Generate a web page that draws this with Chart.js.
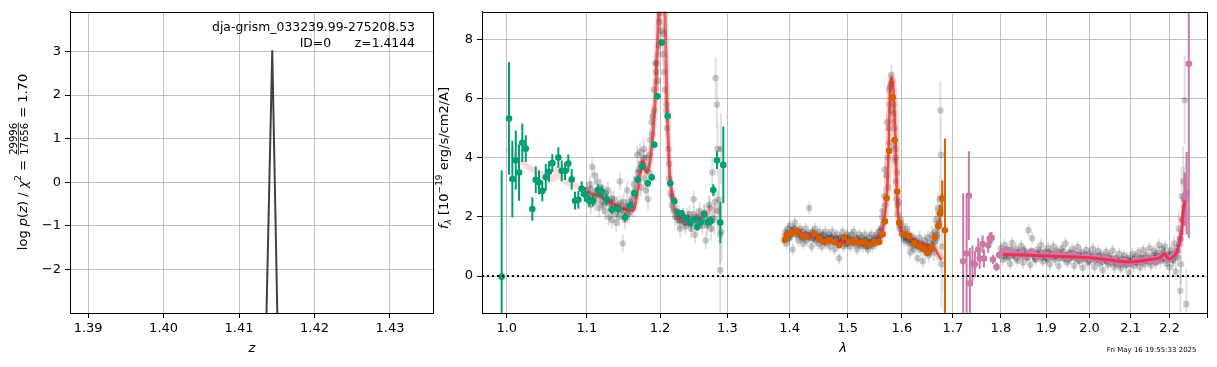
<!DOCTYPE html>
<html>
<head>
<meta charset="utf-8">
<script src="https://cdn.jsdelivr.net/npm/chart.js@4.4.1/dist/chart.umd.min.js"></script>
<style>
html, body { margin: 0; padding: 0; background: #fff; }
#wrap { position: relative; width: 1217px; height: 367px; }
canvas { position: absolute; left: 0; top: 0; }
</style>
</head>
<body>
<div id="wrap">
<canvas id="pz" width="1217" height="367"></canvas>
<canvas id="spec" width="1217" height="367"></canvas>
</div>
<script>
// ---- redshift panel ----
const pzZ = [1.4128, 1.4144, 1.4160];
const pzLog = [-9.6, 3.03, -11.4];
const pzTicksX = [1.39, 1.40, 1.41, 1.42, 1.43];
const pzTicksY = [-2, -1, 0, 1, 2, 3];
const objName = "dja-grism_033239.99-275208.53";
const objId = 0;
const objZ = 1.4144;
const chi2 = ["29996", "17656", "1.70"];
const stamp = "Fri May 16 19:55:33 2025";

// ---- spectrum panel ----
const specTicksX = [1.0, 1.1, 1.2, 1.3, 1.4, 1.5, 1.6, 1.7, 1.8, 1.9, 2.0, 2.1, 2.2, 2.3];
const specTicksY = [0, 2, 4, 6, 8];

// binned spectra
const f115Wave = [0.994, 1.0027, 1.0067, 1.0108, 1.0147, 1.0187, 1.0229, 1.0309, 1.0351, 1.0391,
  1.0432, 1.0475, 1.0516, 1.0557, 1.0633, 1.0676, 1.0718, 1.0760, 1.0803, 1.0846,
  1.0889, 1.0932, 1.0976, 1.1033, 1.1077, 1.1150, 1.1195, 1.1260, 1.1330, 1.1419,
  1.1510, 1.1579, 1.1638, 1.1686, 1.1750, 1.1826, 1.1882, 1.1919, 1.1961, 1.2024,
  1.2110, 1.2147, 1.2205, 1.2263, 1.2313, 1.2377, 1.2436, 1.2499, 1.2545, 1.2596,
  1.2650, 1.2700, 1.2746, 1.2785, 1.2841, 1.2892, 1.2938];
const f115Flux = [-0.02, 5.33, 3.28, 3.92, 3.50, 4.51, 4.31, 2.27, 3.26, 3.17,
  2.88, 3.34, 3.53, 3.82, 4.01, 3.56, 3.55, 3.81, 3.27, 2.55,
  2.58, 2.95, 2.76, 2.55, 2.55, 2.91, 2.86, 2.60, 2.24, 2.27,
  1.99, 2.38, 2.80, 3.26, 3.70, 3.14, 3.34, 4.44, 6.08, 7.90,
  5.41, 3.14, 2.53, 2.14, 2.12, 1.94, 1.80, 1.92, 1.66, 1.82,
  2.08, 1.82, 1.86, 2.91, 3.92, 1.81, 3.76];
const f115Err = [3.6, 1.9, 1.3, 1.0, 0.95, 0.65, 0.45, 0.4, 0.45, 0.4,
  0.35, 0.45, 0.35, 0.3, 0.35, 0.35, 0.3, 0.3, 0.35, 0.3,
  0.3, 0.25, 0.25, 0.2, 0.2, 0.2, 0.2, 0.2, 0.15, 0.15,
  0.15, 0.15, 0.12, 0.12, 0.12, 0.12, 0.12, 0.1, 0.1, 0.1,
  0.1, 0.1, 0.1, 0.1, 0.1, 0.1, 0.1, 0.12, 0.12, 0.12,
  0.12, 0.15, 0.15, 0.2, 0.3, 0.7, 1.3];

const f150Wave = [1.3925, 1.3955, 1.4034, 1.4117, 1.4202, 1.4287, 1.4417, 1.4503, 1.4588, 1.4676,
  1.4763, 1.4851, 1.4939, 1.5029, 1.5118, 1.5209, 1.5299, 1.5390, 1.5483, 1.5574,
  1.5638, 1.5680, 1.5712, 1.5760, 1.5825, 1.5862, 1.5911, 1.5949, 1.6045, 1.6140,
  1.6237, 1.6333, 1.6431, 1.6497, 1.6576, 1.6641, 1.6707, 1.6740, 1.6786, 1.6840];
const f150Flux = [1.23, 1.38, 1.43, 1.52, 1.38, 1.32, 1.43, 1.27, 1.15, 1.21,
  1.15, 1.04, 1.32, 1.15, 1.21, 1.12, 1.15, 1.06, 1.15, 1.15,
  1.41, 1.85, 2.63, 4.24, 6.05, 4.60, 2.86, 1.80, 1.41, 1.36,
  1.12, 1.01, 0.93, 0.78, 0.95, 1.32, 1.69, 2.11, 2.63, 1.55];
const f150Err = [0.1, 0.1, 0.08, 0.08, 0.08, 0.08, 0.08, 0.08, 0.08, 0.08,
  0.08, 0.08, 0.08, 0.08, 0.08, 0.08, 0.08, 0.08, 0.08, 0.08,
  0.08, 0.1, 0.1, 0.1, 0.12, 0.1, 0.1, 0.08, 0.08, 0.08,
  0.08, 0.08, 0.1, 0.1, 0.1, 0.12, 0.15, 0.3, 0.6, 3.1];

const f200Wave = [1.7210, 1.7280, 1.7327, 1.7348, 1.7400, 1.7452, 1.7521, 1.7551, 1.7613, 1.7641,
  1.7731, 1.7761, 1.7801, 1.7830, 1.7906, 1.7962, 1.8035, 1.8121,
  1.820, 1.828, 1.836, 1.844, 1.852, 1.860, 1.868, 1.876, 1.884, 1.892,
  1.900, 1.908, 1.916, 1.924, 1.932, 1.940, 1.948, 1.956, 1.964, 1.972,
  1.980, 1.988, 1.996, 2.004, 2.012, 2.020, 2.028, 2.036, 2.044, 2.052,
  2.060, 2.068, 2.076, 2.084, 2.092, 2.100, 2.108, 2.116, 2.124, 2.132,
  2.140, 2.148, 2.156, 2.164, 2.172, 2.180, 2.188, 2.196, 2.204, 2.212,
  2.220, 2.228, 2.234, 2.2395, 2.2447, 2.2508];
const f200Flux = [0.50, 0.76, 2.72, -0.25, 0.43, 0.40, 0.90, 0.59, 1.08, 0.59,
  1.04, 1.27, 1.29, 0.56, 0.31, 0.71, 0.82, 0.90,
  0.74, 0.80, 0.70, 0.78, 0.67, 0.75, 0.82, 0.71, 0.66, 0.76,
  0.70, 0.64, 0.73, 0.79, 0.68, 0.72, 0.62, 0.70, 0.76, 0.65,
  0.60, 0.68, 0.64, 0.57, 0.66, 0.60, 0.53, 0.62, 0.56, 0.50,
  0.58, 0.47, 0.44, 0.52, 0.46, 0.41, 0.50, 0.55, 0.47, 0.53,
  0.60, 0.51, 0.58, 0.48, 0.62, 0.70, 0.66, 0.55, 0.63, 0.72,
  0.84, 1.25, 1.9, 2.6, 2.80, 7.18];
const f200Err = [2.3, 2.0, 1.5, 1.2, 0.6, 0.45, 0.4, 0.35, 0.3, 0.3,
  0.25, 0.2, 0.2, 0.15, 0.15, 0.12, 0.1, 0.1,
  0.1, 0.1, 0.1, 0.1, 0.1, 0.1, 0.1, 0.1, 0.1, 0.1,
  0.1, 0.1, 0.1, 0.1, 0.1, 0.1, 0.1, 0.1, 0.1, 0.1,
  0.1, 0.1, 0.1, 0.1, 0.1, 0.1, 0.1, 0.1, 0.1, 0.1,
  0.1, 0.1, 0.1, 0.1, 0.1, 0.1, 0.1, 0.1, 0.1, 0.1,
  0.1, 0.1, 0.1, 0.1, 0.1, 0.1, 0.1, 0.1, 0.1, 0.1,
  0.12, 0.25, 0.5, 0.9, 1.4, 5.9];

// individual pixels (grey), first beam
const pix115Wave = [1.100, 1.102, 1.104, 1.105, 1.107, 1.108, 1.110, 1.111, 1.113, 1.114,
  1.116, 1.118, 1.119, 1.121, 1.123, 1.124, 1.126, 1.128, 1.129, 1.131,
  1.133, 1.134, 1.136, 1.138, 1.139, 1.141, 1.143, 1.144, 1.146, 1.148,
  1.149, 1.151, 1.153, 1.154, 1.156, 1.158, 1.160, 1.162, 1.163, 1.165,
  1.167, 1.168, 1.170, 1.172, 1.173, 1.175, 1.177, 1.178, 1.180, 1.181,
  1.183, 1.185, 1.186, 1.188, 1.189, 1.191, 1.192, 1.194, 1.195, 1.197,
  1.198, 1.199, 1.201, 1.202, 1.204, 1.206, 1.207, 1.209, 1.210, 1.212,
  1.213, 1.215, 1.217, 1.219, 1.220, 1.222, 1.224, 1.226, 1.227, 1.229,
  1.231, 1.233, 1.235, 1.237, 1.239, 1.241, 1.243, 1.245, 1.247, 1.249,
  1.251, 1.253, 1.255, 1.258, 1.260, 1.262, 1.265, 1.267, 1.270, 1.272,
  1.275, 1.277, 1.280, 1.282, 1.284, 1.285, 1.287, 1.289, 1.290, 1.291];
const pix115Flux = [2.9, 2.6, 3.1, 2.4, 3.7, 2.7, 3.4, 2.5, 2.9, 3.2,
  2.3, 2.8, 3.0, 2.4, 2.7, 2.2, 2.6, 2.9, 2.0, 2.5,
  1.9, 2.3, 2.6, 2.1, 1.8, 2.4, 2.0, 3.2, 2.2, 1.1,
  2.5, 1.9, 2.3, 2.9, 2.1, 2.5, 2.6, 2.3, 3.1, 2.7,
  3.3, 4.1, 3.6, 4.2, 3.0, 3.8, 4.3, 3.3, 2.9, 4.0,
  2.6, 3.5, 4.6, 5.2, 4.8, 6.3, 5.6, 6.9, 7.2, 6.6,
  7.8, 8.6, 8.9, 8.3, 7.5, 6.9, 6.3, 5.8, 5.0, 4.3,
  3.3, 2.8, 2.4, 2.3, 2.6, 2.0, 2.2, 1.9, 2.1, 1.6,
  1.9, 2.0, 1.8, 1.7, 2.0, 1.9, 2.1, 1.6, 1.8, 2.6,
  1.4, 2.0, 1.8, 2.2, 1.9, 1.7, 2.1, 1.2, 1.9, 2.4,
  1.6, 3.5, 1.9, 6.7, 5.8, 4.3, 2.6, 0.2, 4.3, 1.5];
const pix115Err = [0.3, 0.3, 0.3, 0.3, 0.3, 0.3, 0.3, 0.3, 0.3, 0.3,
  0.3, 0.3, 0.3, 0.3, 0.3, 0.3, 0.3, 0.3, 0.3, 0.3,
  0.3, 0.3, 0.3, 0.3, 0.3, 0.3, 0.3, 0.3, 0.3, 0.3,
  0.3, 0.3, 0.3, 0.3, 0.3, 0.3, 0.3, 0.3, 0.3, 0.3,
  0.3, 0.3, 0.3, 0.3, 0.3, 0.3, 0.3, 0.3, 0.3, 0.3,
  0.4, 0.4, 0.4, 0.4, 0.4, 0.4, 0.4, 0.4, 0.4, 0.4,
  0.4, 0.4, 0.4, 0.4, 0.4, 0.4, 0.4, 0.4, 0.4, 0.4,
  0.3, 0.3, 0.3, 0.3, 0.3, 0.3, 0.3, 0.3, 0.3, 0.3,
  0.3, 0.3, 0.3, 0.3, 0.3, 0.3, 0.3, 0.3, 0.3, 0.3,
  0.3, 0.3, 0.3, 0.3, 0.3, 0.3, 0.3, 0.3, 0.3, 0.3,
  0.4, 0.5, 0.5, 0.7, 0.8, 0.9, 1.0, 1.5, 1.2, 1.0];

const pix150Wave = [1.391, 1.393, 1.395, 1.397, 1.399, 1.401, 1.403, 1.405, 1.407, 1.409,
  1.411, 1.413, 1.415, 1.417, 1.419, 1.421, 1.423, 1.425, 1.427, 1.429,
  1.431, 1.433, 1.435, 1.437, 1.439, 1.441, 1.443, 1.445, 1.447, 1.449,
  1.451, 1.453, 1.455, 1.457, 1.459, 1.461, 1.463, 1.465, 1.467, 1.469,
  1.471, 1.473, 1.475, 1.477, 1.479, 1.481, 1.483, 1.485, 1.487, 1.489,
  1.491, 1.493, 1.495, 1.497, 1.499, 1.501, 1.503, 1.505, 1.507, 1.509,
  1.511, 1.513, 1.515, 1.517, 1.519, 1.521, 1.523, 1.525, 1.527, 1.529,
  1.531, 1.533, 1.535, 1.537, 1.539, 1.541, 1.543, 1.545, 1.547, 1.549,
  1.551, 1.553, 1.555, 1.557, 1.559, 1.561, 1.563, 1.565, 1.567, 1.569,
  1.571, 1.573, 1.574, 1.575, 1.576, 1.577, 1.578, 1.579, 1.580, 1.581,
  1.582, 1.583, 1.584, 1.585, 1.586, 1.587, 1.588, 1.589, 1.590, 1.591,
  1.592, 1.594, 1.596, 1.598, 1.600, 1.602, 1.604, 1.606, 1.608, 1.610,
  1.612, 1.614, 1.616, 1.618, 1.620, 1.622, 1.624, 1.626, 1.628, 1.630,
  1.632, 1.634, 1.636, 1.638, 1.640, 1.642, 1.644, 1.646, 1.648, 1.650,
  1.652, 1.654, 1.656, 1.658, 1.660, 1.662, 1.664, 1.666, 1.668, 1.670,
  1.672, 1.674, 1.675, 1.676, 1.677, 1.678];
const pix150Flux = [1.2, 1.5, 1.1, 1.6, 1.3, 1.7, 1.4, 0.9, 1.6, 1.8,
  1.4, 1.5, 1.2, 1.6, 1.3, 1.5, 1.1, 1.4, 1.6, 1.2,
  1.4, 2.3, 1.3, 1.0, 1.5, 1.3, 1.6, 1.2, 1.4, 1.1,
  1.5, 1.3, 1.0, 1.4, 1.2, 1.5, 1.1, 1.3, 1.4, 1.0,
  1.3, 1.5, 1.2, 0.9, 1.3, 1.4, 1.1, 0.6, 1.3, 1.2,
  1.5, 1.0, 1.3, 1.2, 1.4, 1.1, 1.3, 1.0, 1.4, 1.2,
  1.5, 1.1, 1.3, 0.9, 1.2, 1.4, 1.1, 1.3, 1.0, 1.2,
  1.4, 1.0, 1.2, 0.9, 1.3, 1.1, 1.4, 1.0, 1.2, 1.3,
  1.1, 1.4, 1.2, 1.5, 1.3, 1.6, 2.0, 1.8, 2.7, 2.4,
  3.4, 4.0, 3.0, 5.0, 4.5, 5.8, 6.4, 5.6, 6.8, 6.0,
  6.6, 5.2, 5.8, 4.4, 5.0, 3.9, 4.3, 3.2, 2.6, 3.5,
  2.1, 2.5, 1.6, 1.9, 1.4, 1.7, 1.2, 1.5, 1.3, 1.6,
  1.1, 1.4, 0.8, 1.2, 1.0, 1.3, 0.9, 1.2, 1.1, 0.6,
  1.0, 1.3, 0.9, 1.1, 0.5, 0.9, 1.2, 0.8, 1.0, 1.3,
  0.7, 1.1, 0.9, 1.4, 1.2, 0.8, 1.5, 1.9, 1.3, 2.3,
  1.7, 2.6, 5.6, 4.1, 0.4, 1.0];
const pix150Err = [0.2, 0.2, 0.2, 0.2, 0.2, 0.2, 0.2, 0.2, 0.2, 0.2,
  0.2, 0.2, 0.2, 0.2, 0.2, 0.2, 0.2, 0.2, 0.2, 0.2,
  0.2, 0.2, 0.2, 0.2, 0.2, 0.2, 0.2, 0.2, 0.2, 0.2,
  0.2, 0.2, 0.2, 0.2, 0.2, 0.2, 0.2, 0.2, 0.2, 0.2,
  0.2, 0.2, 0.2, 0.2, 0.2, 0.2, 0.2, 0.2, 0.2, 0.2,
  0.2, 0.2, 0.2, 0.2, 0.2, 0.2, 0.2, 0.2, 0.2, 0.2,
  0.2, 0.2, 0.2, 0.2, 0.2, 0.2, 0.2, 0.2, 0.2, 0.2,
  0.2, 0.2, 0.2, 0.2, 0.2, 0.2, 0.2, 0.2, 0.2, 0.2,
  0.2, 0.2, 0.2, 0.2, 0.2, 0.22, 0.25, 0.25, 0.3, 0.3,
  0.35, 0.35, 0.35, 0.35, 0.35, 0.35, 0.35, 0.35, 0.35, 0.35,
  0.35, 0.35, 0.35, 0.35, 0.35, 0.35, 0.35, 0.35, 0.35, 0.35,
  0.3, 0.3, 0.25, 0.25, 0.2, 0.2, 0.2, 0.2, 0.2, 0.2,
  0.2, 0.2, 0.2, 0.2, 0.2, 0.2, 0.2, 0.2, 0.2, 0.2,
  0.22, 0.22, 0.22, 0.22, 0.22, 0.22, 0.22, 0.22, 0.22, 0.22,
  0.25, 0.25, 0.25, 0.3, 0.3, 0.3, 0.35, 0.4, 0.45, 0.5,
  0.6, 0.8, 1.0, 1.2, 1.5, 1.5];

const pix200Wave = [1.800, 1.804, 1.808, 1.812, 1.816, 1.820, 1.824, 1.828, 1.832, 1.836,
  1.840, 1.844, 1.848, 1.852, 1.856, 1.860, 1.864, 1.868, 1.872, 1.876,
  1.880, 1.884, 1.888, 1.892, 1.896, 1.900, 1.904, 1.908, 1.912, 1.916,
  1.920, 1.924, 1.928, 1.932, 1.936, 1.940, 1.944, 1.948, 1.952, 1.956,
  1.960, 1.964, 1.968, 1.972, 1.976, 1.980, 1.984, 1.988, 1.992, 1.996,
  2.000, 2.004, 2.008, 2.012, 2.016, 2.020, 2.024, 2.028, 2.032, 2.036,
  2.040, 2.044, 2.048, 2.052, 2.056, 2.060, 2.064, 2.068, 2.072, 2.076,
  2.080, 2.084, 2.088, 2.092, 2.096, 2.100, 2.104, 2.108, 2.112, 2.116,
  2.120, 2.124, 2.128, 2.132, 2.136, 2.140, 2.144, 2.148, 2.152, 2.156,
  2.160, 2.164, 2.168, 2.172, 2.176, 2.180, 2.184, 2.188, 2.192, 2.196,
  2.200, 2.204, 2.208, 2.212, 2.216, 2.220, 2.224, 2.228, 2.232, 2.236,
  2.240, 2.244];
const pix200Flux = [0.95, 0.55, 1.05, 0.62, 0.88, 0.41, 1.12, 0.70, 0.93, 0.52,
  0.80, 1.02, 0.45, 0.84, 0.63, 1.55, 0.38, 1.28, 0.74, 0.55,
  0.90, 0.66, 1.05, 0.49, 0.82, 0.60, 0.95, 0.40, 0.77, 1.00,
  0.55, 0.86, 0.34, 0.72, 0.94, 0.58, 1.10, 0.46, 0.80, 0.62,
  0.91, 0.35, 0.74, 0.98, 0.50, 0.81, 0.28, 0.70, 0.88, 0.45,
  0.76, 0.56, 0.92, 0.31, 0.68, 0.85, 0.42, 0.73, 0.20, 0.64,
  0.82, 0.38, 0.69, 0.50, 0.86, 0.30, 0.62, 0.45, 0.75, 0.26,
  0.58, 0.70, 0.36, 0.60, 0.12, 0.52, 0.74, 0.34, 0.66, 0.47,
  0.80, 0.30, 0.63, 0.88, 0.40, 0.72, 0.52, 0.95, 0.36, 0.70,
  0.85, 0.44, 0.78, 1.05, 0.50, 0.92, 0.62, 1.00, 0.42, 0.75,
  0.30, 0.88, 0.55, 1.10, 0.15, 0.95, 1.60, -0.50, 2.70, 3.20,
  5.95, -0.95];
const pix200Err = [0.2, 0.2, 0.2, 0.2, 0.2, 0.2, 0.2, 0.2, 0.2, 0.2,
  0.2, 0.2, 0.2, 0.2, 0.2, 0.2, 0.2, 0.2, 0.2, 0.2,
  0.2, 0.2, 0.2, 0.2, 0.2, 0.2, 0.2, 0.2, 0.2, 0.2,
  0.2, 0.2, 0.2, 0.2, 0.2, 0.2, 0.2, 0.2, 0.2, 0.2,
  0.2, 0.2, 0.2, 0.2, 0.2, 0.2, 0.2, 0.2, 0.2, 0.2,
  0.2, 0.2, 0.2, 0.2, 0.2, 0.2, 0.2, 0.2, 0.2, 0.2,
  0.2, 0.2, 0.2, 0.2, 0.2, 0.2, 0.2, 0.2, 0.2, 0.2,
  0.2, 0.2, 0.2, 0.2, 0.2, 0.2, 0.2, 0.2, 0.2, 0.2,
  0.2, 0.2, 0.2, 0.2, 0.2, 0.2, 0.2, 0.2, 0.2, 0.2,
  0.2, 0.2, 0.2, 0.2, 0.2, 0.2, 0.2, 0.2, 0.2, 0.2,
  0.2, 0.2, 0.25, 0.25, 0.3, 0.4, 0.6, 0.8, 1.0, 1.2,
  1.5, 1.2];

// individual pixels (grey), second beam
const pixB115Wave = [1.101, 1.105, 1.109, 1.113, 1.117, 1.121, 1.125, 1.129, 1.133, 1.137,
  1.141, 1.145, 1.149, 1.153, 1.157, 1.161, 1.165, 1.169, 1.173, 1.177,
  1.181, 1.185, 1.189, 1.193, 1.197, 1.201, 1.205, 1.209, 1.213, 1.217,
  1.221, 1.225, 1.229, 1.233, 1.237, 1.241, 1.245, 1.249, 1.253, 1.257,
  1.261, 1.265, 1.269, 1.273, 1.277, 1.281, 1.285, 1.289];
const pixB115Flux = [2.75, 2.95, 2.60, 2.85, 2.70, 2.50, 2.80, 2.45, 2.62, 2.35,
  2.30, 2.48, 2.20, 2.35, 2.15, 2.40, 2.90, 3.50, 3.80, 4.00,
  3.60, 4.10, 5.40, 7.20, 9.00, 9.50, 8.20, 5.60, 3.80, 2.70,
  2.20, 2.00, 1.85, 2.05, 1.80, 1.95, 1.75, 2.10, 1.88, 2.00,
  1.90, 2.15, 1.70, 2.30, 1.95, 2.50, 2.20, 1.40];
const pixB115Err = [0.25, 0.25, 0.25, 0.25, 0.25, 0.25, 0.25, 0.25, 0.25, 0.25,
  0.25, 0.25, 0.25, 0.25, 0.25, 0.25, 0.25, 0.3, 0.3, 0.3,
  0.3, 0.35, 0.4, 0.4, 0.4, 0.4, 0.4, 0.4, 0.35, 0.3,
  0.25, 0.25, 0.25, 0.25, 0.25, 0.25, 0.25, 0.25, 0.25, 0.25,
  0.3, 0.3, 0.35, 0.4, 0.45, 0.5, 0.7, 1.0];

const pixB150Wave = [1.392, 1.396, 1.400, 1.404, 1.408, 1.412, 1.416, 1.420, 1.424, 1.428,
  1.432, 1.436, 1.440, 1.444, 1.448, 1.452, 1.456, 1.460, 1.464, 1.468,
  1.472, 1.476, 1.480, 1.484, 1.488, 1.492, 1.496, 1.500, 1.504, 1.508,
  1.512, 1.516, 1.520, 1.524, 1.528, 1.532, 1.536, 1.540, 1.544, 1.548,
  1.552, 1.556, 1.560, 1.564, 1.568, 1.572, 1.576, 1.580, 1.584, 1.588,
  1.592, 1.596, 1.600, 1.604, 1.608, 1.612, 1.616, 1.620, 1.624, 1.628,
  1.632, 1.636, 1.640, 1.644, 1.648, 1.652, 1.656, 1.660, 1.664, 1.668,
  1.672, 1.676];
const pixB150Flux = [1.35, 1.45, 1.30, 1.52, 1.60, 1.42, 1.50, 1.36, 1.28, 1.40,
  1.33, 1.46, 1.25, 1.38, 1.30, 1.22, 1.35, 1.18, 1.27, 1.20,
  1.30, 1.14, 1.24, 1.10, 1.28, 1.19, 1.08, 1.25, 1.16, 1.22,
  1.12, 1.26, 1.05, 1.18, 1.10, 1.22, 1.02, 1.14, 1.08, 1.20,
  1.15, 1.30, 1.55, 2.20, 3.60, 5.20, 6.30, 6.50, 5.50, 4.00,
  2.40, 1.70, 1.45, 1.30, 1.35, 1.20, 1.25, 1.10, 1.18, 1.05,
  1.12, 0.98, 1.06, 0.92, 1.00, 0.95, 0.88, 1.02, 1.15, 1.40,
  1.80, 2.20];
const pixB150Err = [0.15, 0.15, 0.15, 0.15, 0.15, 0.15, 0.15, 0.15, 0.15, 0.15,
  0.15, 0.15, 0.15, 0.15, 0.15, 0.15, 0.15, 0.15, 0.15, 0.15,
  0.15, 0.15, 0.15, 0.15, 0.15, 0.15, 0.15, 0.15, 0.15, 0.15,
  0.15, 0.15, 0.15, 0.15, 0.15, 0.15, 0.15, 0.15, 0.15, 0.15,
  0.15, 0.15, 0.2, 0.25, 0.3, 0.3, 0.3, 0.3, 0.3, 0.3,
  0.25, 0.2, 0.15, 0.15, 0.15, 0.15, 0.15, 0.15, 0.15, 0.15,
  0.15, 0.15, 0.15, 0.15, 0.15, 0.15, 0.2, 0.2, 0.25, 0.3,
  0.4, 0.6];

const pixB200Wave = [1.802, 1.806, 1.810, 1.814, 1.818, 1.822, 1.826, 1.830, 1.834, 1.838,
  1.842, 1.846, 1.850, 1.854, 1.858, 1.862, 1.866, 1.870, 1.874, 1.878,
  1.882, 1.886, 1.890, 1.894, 1.898, 1.902, 1.906, 1.910, 1.914, 1.918,
  1.922, 1.926, 1.930, 1.934, 1.938, 1.942, 1.946, 1.950, 1.954, 1.958,
  1.962, 1.966, 1.970, 1.974, 1.978, 1.982, 1.986, 1.990, 1.994, 1.998,
  2.002, 2.006, 2.010, 2.014, 2.018, 2.022, 2.026, 2.030, 2.034, 2.038,
  2.042, 2.046, 2.050, 2.054, 2.058, 2.062, 2.066, 2.070, 2.074, 2.078,
  2.082, 2.086, 2.090, 2.094, 2.098, 2.102, 2.106, 2.110, 2.114, 2.118,
  2.122, 2.126, 2.130, 2.134, 2.138, 2.142, 2.146, 2.150, 2.154, 2.158,
  2.162, 2.166, 2.170, 2.174, 2.178, 2.182, 2.186, 2.190, 2.194, 2.198,
  2.202, 2.206, 2.210, 2.214, 2.218, 2.222, 2.226, 2.230, 2.234, 2.238];
const pixB200Flux = [0.80, 0.68, 0.85, 0.72, 0.64, 0.90, 0.70, 0.78, 0.60, 0.82,
  0.74, 0.66, 0.88, 0.71, 0.62, 0.79, 0.85, 0.68, 0.58, 0.76,
  0.70, 0.83, 0.63, 0.77, 0.69, 0.58, 0.80, 0.72, 0.64, 0.75,
  0.67, 0.78, 0.60, 0.71, 0.82, 0.63, 0.70, 0.56, 0.74, 0.66,
  0.76, 0.60, 0.69, 0.54, 0.72, 0.64, 0.58, 0.70, 0.62, 0.52,
  0.66, 0.58, 0.70, 0.52, 0.62, 0.55, 0.67, 0.48, 0.60, 0.54,
  0.50, 0.62, 0.46, 0.57, 0.52, 0.42, 0.55, 0.49, 0.38, 0.53,
  0.45, 0.51, 0.40, 0.56, 0.47, 0.43, 0.52, 0.58, 0.46, 0.55,
  0.50, 0.60, 0.47, 0.56, 0.63, 0.52, 0.58, 0.49, 0.62, 0.55,
  0.60, 0.68, 0.54, 0.66, 0.72, 0.58, 0.80, 0.63, 0.55, 0.68,
  0.60, 0.74, 0.52, 0.70, 0.82, 0.62, 1.10, 0.40, 1.90, 2.60];
const pixB200Err = [0.15, 0.15, 0.15, 0.15, 0.15, 0.15, 0.15, 0.15, 0.15, 0.15,
  0.15, 0.15, 0.15, 0.15, 0.15, 0.15, 0.15, 0.15, 0.15, 0.15,
  0.15, 0.15, 0.15, 0.15, 0.15, 0.15, 0.15, 0.15, 0.15, 0.15,
  0.15, 0.15, 0.15, 0.15, 0.15, 0.15, 0.15, 0.15, 0.15, 0.15,
  0.15, 0.15, 0.15, 0.15, 0.15, 0.15, 0.15, 0.15, 0.15, 0.15,
  0.15, 0.15, 0.15, 0.15, 0.15, 0.15, 0.15, 0.15, 0.15, 0.15,
  0.15, 0.15, 0.15, 0.15, 0.15, 0.15, 0.15, 0.15, 0.15, 0.15,
  0.15, 0.15, 0.15, 0.15, 0.15, 0.15, 0.15, 0.15, 0.15, 0.15,
  0.15, 0.15, 0.15, 0.15, 0.15, 0.15, 0.15, 0.15, 0.15, 0.15,
  0.15, 0.15, 0.15, 0.15, 0.15, 0.15, 0.15, 0.15, 0.15, 0.15,
  0.15, 0.15, 0.2, 0.2, 0.25, 0.3, 0.5, 0.7, 0.9, 1.1];

// model
const model115Wave = [1.000, 1.010, 1.020, 1.030, 1.040, 1.050, 1.058, 1.062, 1.066, 1.072,
  1.080, 1.090, 1.100, 1.110, 1.120, 1.130, 1.140, 1.150, 1.158, 1.163,
  1.168, 1.172, 1.176, 1.181, 1.186, 1.190, 1.193, 1.196, 1.199, 1.202,
  1.205, 1.208, 1.210, 1.212, 1.214, 1.218, 1.224, 1.234, 1.245, 1.253,
  1.265, 1.275, 1.284, 1.290];
const model115Flux = [4.35, 4.05, 3.80, 3.62, 3.48, 3.36, 3.28, 3.62, 3.40, 3.20,
  3.12, 2.98, 2.85, 2.76, 2.67, 2.52, 2.39, 2.28, 2.22, 2.25,
  2.80, 3.45, 3.90, 3.50, 3.90, 4.80, 5.90, 7.6, 9.8, 11.5,
  10.5, 8.0, 5.9, 4.5, 3.45, 2.60, 2.10, 1.83, 1.90, 2.00,
  2.10, 2.20, 2.27, 2.30];
const model150Wave = [1.392, 1.400, 1.409, 1.420, 1.4285, 1.440, 1.450, 1.467, 1.485, 1.500,
  1.520, 1.534, 1.548, 1.555, 1.562, 1.568, 1.573, 1.5775, 1.580, 1.584,
  1.588, 1.5905, 1.594, 1.602, 1.615, 1.627, 1.646, 1.660, 1.666, 1.673,
  1.677];
const model150Flux = [1.38, 1.45, 1.57, 1.40, 1.32, 1.38, 1.25, 1.20, 1.15, 1.18,
  1.13, 1.06, 1.12, 1.21, 1.43, 2.05, 3.23, 6.14, 6.70, 6.36,
  4.68, 2.86, 1.88, 1.43, 1.30, 1.15, 1.04, 0.99, 0.87, 0.65,
  0.54];
const model200Wave = [1.805, 1.85, 1.90, 1.95, 2.00, 2.05, 2.09, 2.12, 2.15, 2.175,
  2.186, 2.193, 2.200, 2.209, 2.215, 2.222, 2.2305, 2.235, 2.2396];
const model200Flux = [0.73, 0.71, 0.68, 0.65, 0.62, 0.54, 0.48, 0.50, 0.56, 0.62,
  0.76, 0.64, 0.58, 0.65, 0.73, 0.93, 1.43, 2.10, 2.55];

// ---- helpers ----
const FAM = "'DejaVu Sans', sans-serif";
const fnt = (size, italic) => (italic ? 'italic ' : '') + size + 'px ' + FAM;
Chart.defaults.font.family = FAM;
Chart.defaults.font.size = 13;
Chart.defaults.color = '#000';

const pts = (w, f) => w.map((x, i) => ({x: x, y: f[i]}));
function bars(w, f, e) {
  const out = [];
  w.forEach((x, i) => {
    out.push({x: x, y: f[i] - e[i]}, {x: x, y: f[i] + e[i]}, {x: x, y: null});
  });
  return out;
}
const minus = v => (v < 0 ? '\u2212' + Math.abs(v) : String(v));

// draws a run of text pieces centred on (cx, cy); rotated for y titles
function drawRich(ctx, parts, cx, cy, rot) {
  ctx.save();
  ctx.translate(cx, cy);
  if (rot) ctx.rotate(-Math.PI / 2);
  let total = 0;
  parts.forEach(p => {
    if (p.frac) {
      ctx.font = fnt(p.size);
      p.w = Math.max(ctx.measureText(p.frac[0]).width, ctx.measureText(p.frac[1]).width) + 2;
    } else {
      ctx.font = fnt(p.size || 13, p.it);
      p.w = ctx.measureText(p.t).width;
    }
    total += p.w;
  });
  let x = -total / 2;
  ctx.fillStyle = '#000';
  ctx.textBaseline = 'alphabetic';
  parts.forEach(p => {
    if (p.frac) {
      ctx.font = fnt(p.size);
      ctx.textAlign = 'center';
      ctx.fillText(p.frac[0], x + p.w / 2, p.num);
      ctx.fillText(p.frac[1], x + p.w / 2, p.den);
      ctx.fillRect(x + 0.5, p.bar, p.w - 1, 0.8);
    } else {
      ctx.font = fnt(p.size || 13, p.it);
      ctx.textAlign = 'left';
      ctx.fillText(p.t, x, p.dy || 0);
    }
    x += p.w;
  });
  ctx.restore();
}

const frame = {
  id: 'frame',
  afterDatasetsDraw(chart) {
    const a = chart.chartArea, ctx = chart.ctx;
    ctx.save();
    ctx.strokeStyle = '#000';
    ctx.lineWidth = 1;
    ctx.strokeRect(Math.round(a.left) + 0.5, Math.round(a.top) + 0.5,
      Math.round(a.right - a.left), Math.round(a.bottom - a.top));
    ctx.restore();
  }
};

function axes(xOpt, yOpt, xH, yW) {
  const grid = {color: '#b0b0b0', lineWidth: 0.8, tickColor: '#000', tickLength: 5, tickWidth: 1};
  return {
    x: Object.assign({
      grid: grid, border: {color: '#000', width: 1},
      ticks: {padding: 3, maxRotation: 0, autoSkip: false, font: {size: 13}},
      afterFit(s) { s.height = xH; }
    }, xOpt),
    y: Object.assign({
      type: 'linear',
      grid: grid, border: {color: '#000', width: 1},
      ticks: {padding: 4, autoSkip: false, font: {size: 13}, callback: minus},
      afterFit(s) { s.width = yW; }
    }, yOpt)
  };
}

// ---- left: p(z) ----
const pzText = {
  id: 'pzText',
  afterDraw(chart) {
    const ctx = chart.ctx;
    ctx.save();
    ctx.fillStyle = '#000';
    ctx.font = fnt(12.4);
    ctx.textAlign = 'right';
    ctx.textBaseline = 'alphabetic';
    ctx.fillText(objName, 415, 31);
    ctx.fillText('ID=' + objId + '      z=' + objZ.toFixed(4), 415, 46.5);
    ctx.textAlign = 'center';
    ctx.font = fnt(13, true);
    ctx.fillText('z', 252, 352);
    ctx.restore();
    drawRich(ctx, [
      {t: 'log '}, {t: 'p', it: true}, {t: '('}, {t: 'z', it: true}, {t: ') / '},
      {t: '\u03c7', it: true}, {t: '2', size: 9, dy: -5.5}, {t: ' = '},
      {frac: [chi2[0], chi2[1]], size: 10, num: -9.6, den: 1, bar: -8.6},
      {t: ' = ' + chi2[2]}
    ], 26.5, 162, true);
  }
};

new Chart(document.getElementById('pz'), {
  type: 'line',
  data: {
    datasets: [{
      data: pts(pzZ, pzLog),
      borderColor: '#404040', borderWidth: 2, pointRadius: 0, tension: 0, clip: 0
    }]
  },
  options: {
    responsive: false, animation: false, devicePixelRatio: 1,
    layout: {padding: {left: 0, top: 10, right: 784, bottom: 0}},
    plugins: {legend: {display: false}, tooltip: {enabled: false}},
    scales: axes(
      {type: 'linear', min: 1.3876, max: 1.4357,
        afterBuildTicks(s) { s.ticks = pzTicksX.map(v => ({value: v})); },
        ticks: {padding: 3, maxRotation: 0, autoSkip: false, font: {size: 13}, callback: v => v.toFixed(2)}},
      {min: -3, max: 3.91, afterBuildTicks(s) { s.ticks = pzTicksY.map(v => ({value: v})); }},
      54, 70)
  },
  plugins: [frame, pzText]
});

// ---- right: spectrum ----
const cGreen = '#009E73', cOrange = '#D55E00', cPink = '#CC79A7';
const specSets = [];
function add(ds) { specSets.push(Object.assign({pointRadius: 0, borderWidth: 0, clip: 0, tension: 0, spanGaps: false}, ds)); }
function greyPix(w, f, e) {
  add({data: bars(w, f, e), borderColor: 'rgba(0,0,0,0.12)', borderWidth: 2});
}
function greyDots(w, f) {
  add({data: pts(w, f), showLine: false, pointRadius: 3.3, pointBackgroundColor: 'rgba(0,0,0,0.2)'});
}
function binned(w, f, e, c) {
  add({data: bars(w, f, e), borderColor: c, borderWidth: 2});
  add({data: pts(w, f), showLine: false, pointRadius: 3.3, pointBackgroundColor: c});
}
greyPix(pix115Wave, pix115Flux, pix115Err);
greyPix(pix150Wave, pix150Flux, pix150Err);
greyPix(pix200Wave, pix200Flux, pix200Err);
greyPix(pixB115Wave, pixB115Flux, pixB115Err);
greyPix(pixB150Wave, pixB150Flux, pixB150Err);
greyPix(pixB200Wave, pixB200Flux, pixB200Err);
greyDots(pix115Wave, pix115Flux);
greyDots(pix150Wave, pix150Flux);
greyDots(pix200Wave, pix200Flux);
greyDots(pixB115Wave, pixB115Flux);
greyDots(pixB150Wave, pixB150Flux);
greyDots(pixB200Wave, pixB200Flux);
// model, pale band then core
add({data: pts(model115Wave, model115Flux), borderColor: 'rgba(255,70,70,0.2)', borderWidth: 6, tension: 0.3});
add({data: pts(model115Wave.slice(12, 36), model115Flux.slice(12, 36)), borderColor: 'rgba(210,25,25,0.6)', borderWidth: 3, tension: 0.3});
add({data: pts(model150Wave, model150Flux), borderColor: 'rgba(255,60,60,0.22)', borderWidth: 7, tension: 0.3});
add({data: pts(model150Wave, model150Flux), borderColor: 'rgba(238,40,30,0.75)', borderWidth: 2.5, tension: 0.3});
binned(f115Wave, f115Flux, f115Err, cGreen);
binned(f150Wave, f150Flux, f150Err, cOrange);
binned(f200Wave, f200Flux, f200Err, cPink);
add({data: pts(model200Wave, model200Flux), borderColor: 'rgba(232,40,70,0.85)', borderWidth: 3, tension: 0.3});
add({data: [{x: 0.971, y: 0}, {x: 2.30, y: 0}], borderColor: '#000', borderWidth: 2, borderDash: [2, 3]});
specSets.forEach((d, i) => { d.order = -i; });

const specText = {
  id: 'specText',
  afterDraw(chart) {
    const ctx = chart.ctx;
    ctx.save();
    ctx.fillStyle = '#000';
    ctx.textAlign = 'center';
    ctx.textBaseline = 'alphabetic';
    ctx.font = fnt(13, true);
    ctx.fillText('\u03bb', 843, 352);
    ctx.font = fnt(7);
    ctx.textAlign = 'right';
    ctx.fillText(stamp, 1196.5, 351.5);
    ctx.restore();
    drawRich(ctx, [
      {t: 'f', it: true}, {t: '\u03bb', it: true, size: 9, dy: 3}, {t: ' [10'},
      {t: '\u221219', size: 9, dy: -5.5}, {t: ' erg/s/cm2/A]'}
    ], 447.5, 158, true);
  }
};

new Chart(document.getElementById('spec'), {
  type: 'line',
  data: {datasets: specSets},
  options: {
    responsive: false, animation: false, devicePixelRatio: 1,
    layout: {padding: {left: 0, top: 10, right: 10, bottom: 0}},
    plugins: {legend: {display: false}, tooltip: {enabled: false}},
    scales: axes(
      {type: 'logarithmic', min: 0.971, max: 2.30,
        afterBuildTicks(s) { s.ticks = specTicksX.map(v => ({value: v})); },
        ticks: {padding: 3, maxRotation: 0, autoSkip: false, font: {size: 13},
          callback: v => (v > 2.25 ? '' : Number(v).toFixed(1))}},
      {min: -1.25, max: 8.94, afterBuildTicks(s) { s.ticks = specTicksY.map(v => ({value: v})); }},
      54, 482)
  },
  plugins: [frame, specText]
});
</script>
</body>
</html>
